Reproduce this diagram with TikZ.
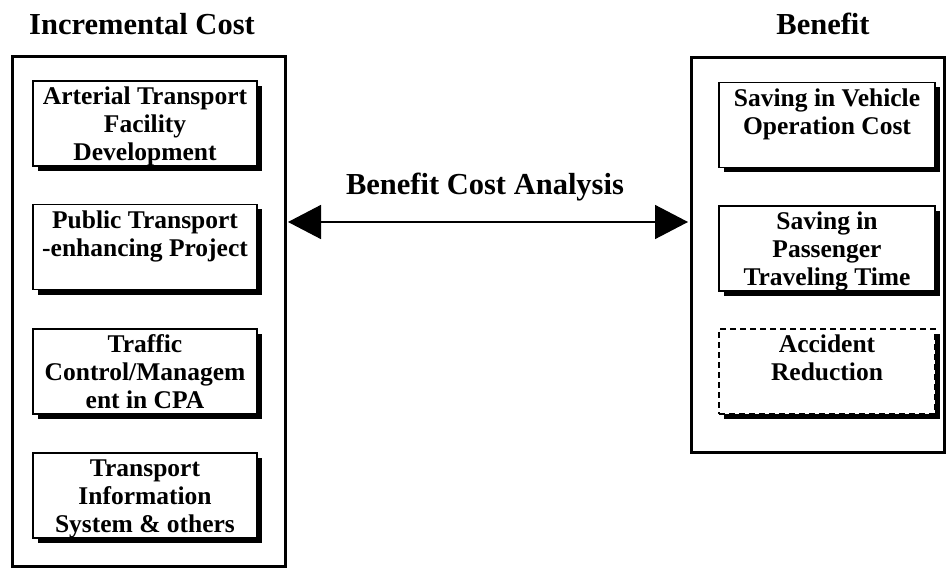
\documentclass[tikz,border=0pt]{standalone}
\usepackage{fontspec}
\setmainfont{Liberation Serif}
\usetikzlibrary{arrows.meta,shadows}
\tikzset{
  outerbox/.style={draw, line width=3pt},
  ibox/.style={draw, line width=1.6pt, fill=white, inner sep=0pt,
    general shadow={fill=black, shadow xshift=4.5pt, shadow yshift=-5pt}},
  dbox/.style={ibox, dash pattern=on 6pt off 4pt, line width=1.5pt},
  title/.style={font=\fontsize{30.5}{34}\selectfont\bfseries, anchor=base},
  itext/.style={font=\fontsize{25.5}{28}\selectfont\bfseries},
}
\newcommand{\lbox}[1]{\parbox[c][85pt][t]{224pt}{\centering\vspace*{4pt}\strut #1\par}}
\newcommand{\rbox}[1]{\parbox[c][85pt][t]{216pt}{\centering\vspace*{4pt}\strut #1\par}}
\begin{document}
\begin{tikzpicture}[x=1pt,y=-1pt]
\useasboundingbox (0,0) rectangle (947,569);
% titles
\node[title] (tl) at (142,35) {Incremental Cost};
\node[title] (tr) at (823,35) {Benefit};
\node[title] (tm) at (485,195) {Benefit Cost Analysis};
% outer boxes
\node[outerbox, minimum width=273pt, minimum height=509pt, inner sep=0pt] (L) at (148.5,311.5) {};
\node[outerbox, minimum width=253pt, minimum height=394pt, inner sep=0pt] (R) at (817.5,255) {};
% left inner boxes
\node[ibox, itext] (l1) at (145,123.5) {\lbox{Arterial Transport\\Facility\\Development}};
\node[ibox, itext] (l2) at (145,247) {\lbox{Public Transport\\-enhancing Project}};
\node[ibox, itext] (l3) at (145,371.5) {\lbox{Traffic\\Control/Managem\\ent in CPA}};
\node[ibox, itext] (l4) at (145,495.5) {\lbox{Transport\\Information\\System \& others}};
% right inner boxes
\node[ibox, itext] (r1) at (827,125) {\rbox{Saving in Vehicle\\Operation Cost}};
\node[ibox, itext] (r2) at (827,248.5) {\rbox{Saving in\\Passenger\\Traveling Time}};
\node[dbox, itext] (r3) at (827,371.5) {\rbox{Accident\\Reduction}};
% arrow
\coordinate (ay) at (0,222);
\draw[line width=1.5pt, {Triangle[length=33pt,width=34pt]}-{Triangle[length=33pt,width=34pt]}, shorten <=1.5pt, shorten >=1.5pt]
  (L.east |- ay) -- (R.west |- ay);
\end{tikzpicture}
\end{document}
